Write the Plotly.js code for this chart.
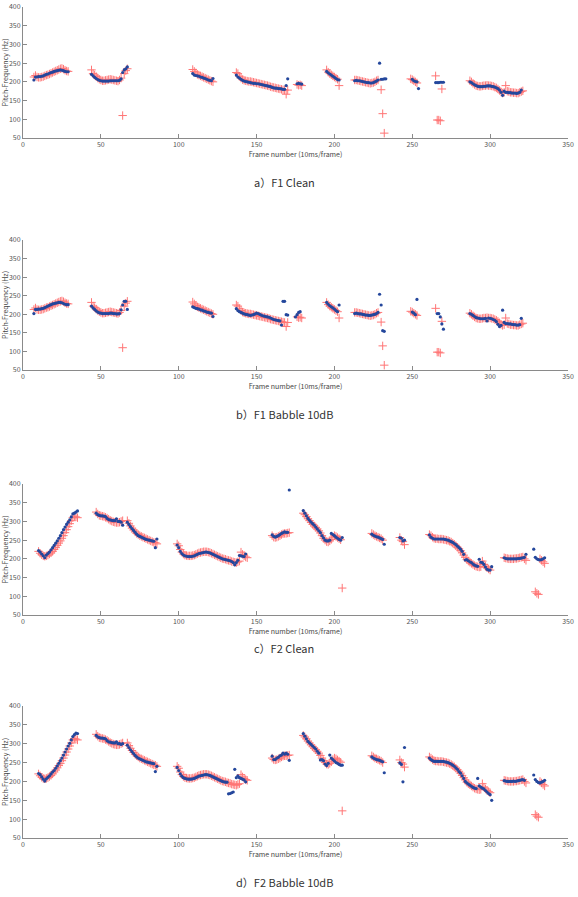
<!DOCTYPE html>
<html>
<head>
<meta charset="utf-8">
<script src="https://cdn.plot.ly/plotly-3.0.1.min.js"></script>
<style>html,body{margin:0;padding:0;background:#fff}#chart{width:578px;height:897px}</style>
</head>
<body>
<div id="chart"></div>
<script>
// Data: segments of consecutive frames [startFrame, [pitch values in Hz]]
const captions = ["a\uFF09F1 Clean", "b\uFF09F1 Babble 10dB", "c\uFF09F2 Clean", "d\uFF09F2 Babble 10dB"];
const xTitle = "Frame number (10ms/frame)";
const yTitle = "Pitch-Frequency (Hz)";

// F1 reference (red +), shared by a) and b)
const f1Ref = [
  [7, [213,217,213,212,212,213,214,216,218,219,221,223,225,227,229,231,233,235,236,234,231,229,228]],
  [44, [232,222,218,214,210,207,205,203,203,204,205,206,207,206,205,204,203,202,205,210,110,222,230,235]],
  [109, [233,228,224,220,218,216,214,212,210,208,206,204,202,200]],
  [137, [225,222,215,210,206,204,203,202,201,201,200,199,198,197,196,195,194,193,192,191,190,189,187,186,185,184,183,182,181,180,179,178,167,178]],
  [176, [193,191,192,190]],
  [195, [232,226,222,219,216,213,210,207,190]],
  [213, [205,205,204,203,202,201,200,199,198,197,196,197,198,200,203,205]],
  [230, [179,115,63]],
  [249, [208,206,203,200,197]],
  [265, [216,98,98,96,181]],
  [287, [203,200,196,193,190,189,188,188,189,190,190,191,190,190,189,188,186,184,181,177,173,170,172,190,175,174,172,172,171,171,170,170,172,174,176]]
];
// F1 clean estimate (blue dots), a)
const f1Clean = [
  [7, [205,213,213,214,214,215,216,218,220,221,223,225,226,228,229,230,231,232,231,230,228,227,227]],
  [44, [220,216,212,209,206,204,203,202,202,202,202,202,203,203,203,203,203,203,204,208,225,232,235,240]],
  [109, [222,218,217,216,215,213,212,210,209,207,205,204,203,209]],
  [137, [218,213,210,207,204,202,201,200,199,198,197,196,196,195,195,194,193,192,191,190,189,188,187,185,184,183,183,182,182,181,180,180,190,208]],
  [176, [195,196,195,194]],
  [195, [228,224,221,218,215,212,209,206,205]],
  [213, [203,204,203,203,202,201,200,199,198,198,197,197,198,200,202,205,250,207,207,208,208]],
  [250, [207,203,201,200,182]],
  [265, [198,198,198,199,199,199]],
  [287, [200,198,195,192,190,188,187,187,187,188,188,189,189,189,188,187,186,184,182,178,172,164,175,172,172,171,171,170,170,170,169,170,172,178]]
];
// F1 babble 10dB estimate (blue dots), b)
const f1Babble = [
  [7, [202,213,213,214,214,215,216,218,220,222,224,226,228,229,230,231,232,232,231,229,227,226,226]],
  [44, [222,217,213,209,206,204,203,202,202,202,202,202,203,203,202,202,201,201,202,212,225,235,235,213]],
  [109, [220,218,216,215,214,212,211,209,208,206,205,204,203,194]],
  [137, [215,210,207,205,203,201,200,199,198,197,198,199,201,203,202,200,198,196,195,194,193,192,190,188,186,185,184,183,182,171,235,235,199,198]],
  [175, [193,199,205,207]],
  [195, [232,227,223,220,217,214,210,207,225]],
  [213, [202,203,202,201,201,200,199,198,198,197,197,198,199,200,202,205,254,225,156,154]],
  [250, [206,203,199,240]],
  [266, [202,202,193,174,160]],
  [287, [202,200,197,194,191,190,189,188,188,188,189,182,190,189,188,186,184,180,173,167,170,211,178,175,175,174,174,173,172,172,171,171,172,189]]
];
// F2 reference (red +), shared by c) and d)
const f2Ref = [
  [10, [220,215,211,208,207,208,210,213,216,220,225,230,236,242,248,255,262,270,278,286,294,302,310,314,312,310]],
  [47, [325,320,316,315,314,313,311,309,306,303,301,299,298,297,297,298,300,302]],
  [67, [302,295,288,282,277,272,268,265,262,260,258,256,254,252,250,248,246,244,243,240]],
  [99, [240,235,225,218,213,210,209,208,208,208,209,210,212,214,216,217,218,219,219,219,218,217,215,213,211,209,207,205,203,201,200,199,197,196,195,193,192,191,190,192,194,218,212,208,205,203]],
  [160, [262,258,257,258,260,262,265,267,268,268,269,270]],
  [180, [322,318,313,307,302,297,292,288,284,280,275,269,262,255,250,246,245,248,252,258,262,260,257,254,251,122]],
  [224, [268,265,262,260,258,256,254,250]],
  [242, [257,250,246,238]],
  [261, [265,262,258,255,254,254,253,253,253,252,251,250,249,247,245,242,239,235,231,227,222,216,210,204,198,194,191,188,185,182,180,179,178,179,194,185,180,176,173,170]],
  [309, [203,202,201,200,200,200,200,201,201,202,203,204,205,200,196]],
  [329, [112,108,105,200,196,192,188]]
];
// F2 clean estimate (blue dots), c)
const f2Clean = [
  [10, [222,218,213,208,203,210,214,218,224,230,236,242,248,255,262,270,278,285,292,298,304,312,320,322,325,328]],
  [47, [322,318,316,315,315,314,313,308,305,304,303,302,302,307,300,300,298,290]],
  [67, [298,292,286,281,276,271,266,262,260,258,256,254,252,251,250,249,248,247,230,253]],
  [99, [237,230,220,214,210,208,207,206,206,206,207,208,210,212,214,215,216,217,218,218,217,216,214,212,210,208,206,204,202,200,199,198,197,196,195,193,190,184,190,196,209,208,207,206,213]],
  [160, [264,260,258,260,262,265,268,270,272,271,271,384]],
  [180, [329,322,315,308,303,298,294,290,285,280,275,270,262,256,250,248,248,250,268,265,262,258,255,252,250,257]],
  [224, [266,263,261,259,258,256,254,252,239]],
  [242, [257,255,248,250]],
  [261, [264,258,255,253,253,253,253,253,253,253,252,251,250,248,246,244,241,238,234,230,226,220,212,197,198,195,192,190,186,183,181,180,199,191,190,185,178,172,170,170,179]],
  [309, [203,201,200,200,200,200,200,200,200,201,201,202,203,204,212]],
  [328, [226,204,200,198,197,198,200,203]]
];
// F2 babble 10dB estimate (blue dots), d)
const f2Babble = [
  [10, [221,218,212,206,201,207,211,215,220,225,229,235,241,248,255,262,270,278,286,294,301,310,319,324,328,327]],
  [47, [322,318,316,315,315,314,313,308,305,304,303,302,302,305,300,300,298,300]],
  [67, [296,290,284,279,274,269,265,262,260,258,256,254,252,251,250,249,248,247,226,240]],
  [99, [237,229,220,214,210,208,207,206,206,206,207,208,210,212,214,215,216,217,218,218,217,216,214,212,210,208,206,204,202,200,199,198,198,167,168,170,172,232,210,215,210,208,206,204,199]],
  [160, [267,258,258,262,264,268,270,275,272,275,272,256]],
  [180, [327,320,313,306,302,298,294,290,286,280,275,257,258,255,246,242,248,270,262,258,254,250,248,245,243,243]],
  [224, [265,262,260,258,257,256,254,252,223]],
  [242, [249,245,199,290]],
  [261, [262,258,255,253,253,253,253,253,253,253,252,251,250,248,246,243,240,236,232,226,222,215,208,200,196,193,190,187,184,182,181,208,188,185,182,180,176,172,168,165,150]],
  [309, [202,201,200,200,200,200,201,200,201,202,203,204,205,203]],
  [328, [217,205,200,197,196,198,200,203]]
];

function expand(segs){
  const x=[], y=[];
  segs.forEach(s=>{ s[1].forEach((v,i)=>{ x.push(s[0]+i); y.push(v); }); });
  return {x,y};
}

const panels = [
  {ref:f1Ref, est:f1Clean},
  {ref:f1Ref, est:f1Babble},
  {ref:f2Ref, est:f2Clean},
  {ref:f2Ref, est:f2Babble}
];

const W=578, H=897;
const plotTop=[7,240,484,706], plotBot=[138,370,615,838];
const capY=[182,414,648,882];
const xL=23, xR=568;
const FONT='"Noto Sans CJK JP", "Noto Sans", sans-serif';

const data=[];
const layout={
  width:W, height:H,
  margin:{l:0,r:0,t:0,b:0},
  paper_bgcolor:'#fff', plot_bgcolor:'#fff',
  showlegend:false,
  font:{family:FONT, color:'#444'},
  annotations:[]
};

panels.forEach((p,i)=>{
  const n = i===0?'':String(i+1);
  const r=expand(p.ref), b=expand(p.est);
  data.push({type:'scatter', mode:'markers', x:r.x, y:r.y, xaxis:'x'+n, yaxis:'y'+n,
    marker:{symbol:'cross-thin', size:6, line:{width:1, color:'#ff7575'}, color:'#ff7575'}, hoverinfo:'skip'});
  data.push({type:'scatter', mode:'markers', x:b.x, y:b.y, xaxis:'x'+n, yaxis:'y'+n,
    marker:{symbol:'circle', size:3.2, color:'#24479c'}, hoverinfo:'skip'});
  const common={showgrid:false, zeroline:false, showline:true, linecolor:'#8a8a8a', linewidth:1,
    ticks:'inside', ticklen:4, tickcolor:'#8a8a8a', tickfont:{size:7, color:'#555', family:FONT}};
  layout['xaxis'+n]=Object.assign({}, common, {
    domain:[xL/W, xR/W], range:[0,350], tick0:0, dtick:50, anchor:'y'+n,
    title:{text:xTitle, font:{size:7, color:'#444', family:FONT}, standoff:3}
  });
  layout['yaxis'+n]=Object.assign({}, common, {
    domain:[1-plotBot[i]/H, 1-plotTop[i]/H], range:[50,400], tick0:50, dtick:50, anchor:'x'+n,
    title:{text:yTitle, font:{size:7, color:'#444', family:FONT}, standoff:2}
  });
  layout.annotations.push({text:captions[i], xref:'paper', yref:'paper', x:284/W, y:1-capY[i]/H,
    xanchor:'center', yanchor:'middle', showarrow:false, font:{size:11, color:'#333', family:FONT}});
});

Plotly.newPlot('chart', data, layout, {staticPlot:true, displayModeBar:false});
</script>
</body>
</html>
